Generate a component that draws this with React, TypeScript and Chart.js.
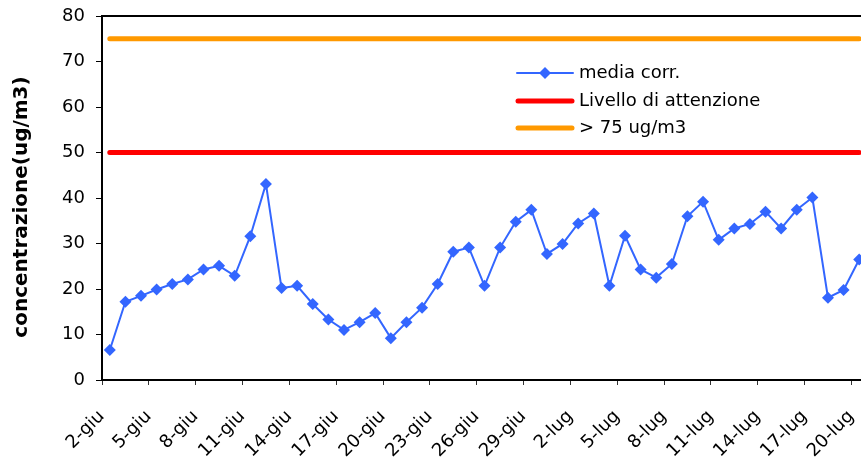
import React, { useEffect, useRef } from "react";
import { Chart, registerables } from "chart.js";

Chart.register(...registerables);

const categories: string[] = [
  "2-giu", "3-giu", "4-giu", "5-giu", "6-giu", "7-giu", "8-giu", "9-giu", "10-giu",
  "11-giu", "12-giu", "13-giu", "14-giu", "15-giu", "16-giu", "17-giu", "18-giu", "19-giu",
  "20-giu", "21-giu", "22-giu", "23-giu", "24-giu", "25-giu", "26-giu", "27-giu", "28-giu",
  "29-giu", "30-giu", "1-lug", "2-lug", "3-lug", "4-lug", "5-lug", "6-lug", "7-lug",
  "8-lug", "9-lug", "10-lug", "11-lug", "12-lug", "13-lug", "14-lug", "15-lug", "16-lug",
  "17-lug", "18-lug", "19-lug", "20-lug",
];

const mediaCorr: number[] = [
  6.6, 17.2, 18.5, 19.9, 21.1, 22.1, 24.3, 25.1, 22.9, 31.6,
  43.1, 20.2, 20.7, 16.7, 13.3, 11.0, 12.7, 14.7, 9.2, 12.7,
  15.9, 21.1, 28.2, 29.1, 20.7, 29.1, 34.8, 37.4, 27.7, 29.9,
  34.4, 36.6, 20.7, 31.7, 24.3, 22.5, 25.5, 36.0, 39.2, 30.8,
  33.3, 34.3, 37.0, 33.3, 37.4, 40.1, 18.1, 19.8, 26.5,
];

const livelloAttenzione = 50;
const sogliaAlta = 75;

const seriesNames: string[] = ["media corr.", "Livello di attenzione", "> 75 ug/m3"];
const yTitle = "concentrazione(ug/m3)";

const BLUE = "#3366ff";
const RED = "#ff0000";
const ORANGE = "#ff9900";
const FONT = "'DejaVu Sans', Verdana, sans-serif";

export default function App() {
  const canvasRef = useRef<HTMLCanvasElement | null>(null);

  useEffect(() => {
    const canvas = canvasRef.current;
    if (!canvas) return;

    const frameAndLegend = {
      id: "frameAndLegend",
      afterDraw(chart: any) {
        const { ctx, chartArea } = chart;
        ctx.save();
        ctx.strokeStyle = "#000";
        ctx.lineWidth = 2;
        ctx.beginPath();
        ctx.moveTo(chartArea.left - 1, chartArea.top);
        ctx.lineTo(chartArea.right, chartArea.top);
        ctx.stroke();

        ctx.save();
        ctx.translate(22, (chartArea.top + chartArea.bottom) / 2 + 9);
        ctx.rotate(-Math.PI / 2);
        ctx.fillStyle = "#000";
        ctx.font = `bold 20px ${FONT}`;
        ctx.textAlign = "center";
        ctx.textBaseline = "middle";
        ctx.fillText(yTitle, 0, 0);
        ctx.restore();

        const lx0 = chartArea.left + 415;
        const lx1 = lx0 + 56;
        const tx = lx1 + 6;
        const rows = [chartArea.top + 57, chartArea.top + 85, chartArea.top + 112];
        ctx.lineCap = "round";
        ctx.strokeStyle = BLUE;
        ctx.lineWidth = 2;
        ctx.beginPath();
        ctx.moveTo(lx0, rows[0]);
        ctx.lineTo(lx1, rows[0]);
        ctx.stroke();
        ctx.fillStyle = BLUE;
        const mx = (lx0 + lx1) / 2;
        ctx.beginPath();
        ctx.moveTo(mx, rows[0] - 6);
        ctx.lineTo(mx + 6, rows[0]);
        ctx.lineTo(mx, rows[0] + 6);
        ctx.lineTo(mx - 6, rows[0]);
        ctx.closePath();
        ctx.fill();
        ctx.strokeStyle = RED;
        ctx.lineWidth = 5;
        ctx.beginPath();
        ctx.moveTo(lx0 + 1, rows[1]);
        ctx.lineTo(lx1 - 1, rows[1]);
        ctx.stroke();
        ctx.strokeStyle = ORANGE;
        ctx.beginPath();
        ctx.moveTo(lx0 + 1, rows[2]);
        ctx.lineTo(lx1 - 1, rows[2]);
        ctx.stroke();

        ctx.fillStyle = "#000";
        ctx.font = `18px ${FONT}`;
        ctx.textAlign = "left";
        ctx.textBaseline = "middle";
        seriesNames.forEach((n, i) => ctx.fillText(n, tx, rows[i]));
        ctx.restore();
      },
    };

    const chart = new Chart(canvas, {
      type: "line",
      data: {
        labels: categories,
        datasets: [
          {
            label: seriesNames[2],
            data: categories.map(() => sogliaAlta),
            borderColor: ORANGE,
            borderWidth: 5,
            borderCapStyle: "round",
            pointRadius: 0,
            tension: 0,
          },
          {
            label: seriesNames[1],
            data: categories.map(() => livelloAttenzione),
            borderColor: RED,
            borderWidth: 5,
            borderCapStyle: "round",
            pointRadius: 0,
            tension: 0,
          },
          {
            label: seriesNames[0],
            data: mediaCorr,
            borderColor: BLUE,
            backgroundColor: BLUE,
            borderWidth: 2,
            pointStyle: "rectRot",
            pointRadius: 6,
            pointBorderWidth: 0,
            pointBackgroundColor: BLUE,
            tension: 0,
          },
        ],
      },
      options: {
        animation: false,
        responsive: false,
        devicePixelRatio: 1,
        layout: { padding: { top: 16, left: 0, right: 0, bottom: 0 } },
        plugins: {
          legend: { display: false },
          tooltip: { enabled: false },
        },
        scales: {
          x: {
            type: "category",
            offset: true,
            afterFit: (scale: any) => {
              scale.height = 84;
              scale.paddingLeft = 0;
              scale.paddingRight = 0;
            },
            grid: {
              offset: true,
              drawOnChartArea: false,
              drawTicks: true,
              tickLength: 5,
              lineWidth: 1,
              color: (c: any) => (c.index % 3 === 0 ? "#333" : "rgba(0,0,0,0)"),
              tickColor: (c: any) => (c.index % 3 === 0 ? "#333" : "rgba(0,0,0,0)"),
            },
            border: { display: true, color: "#000", width: 2 },
            ticks: {
              autoSkip: false,
              maxRotation: 45,
              minRotation: 45,
              padding: 21,
              labelOffset: -8,
              color: "#000",
              font: { family: FONT, size: 18 },
              callback: (_v: any, i: number) => (i % 3 === 0 ? categories[i] : ""),
            },
          },
          y: {
            min: 0,
            max: 80,
            afterFit: (scale: any) => {
              scale.width = 102;
              scale.paddingTop = 0;
              scale.paddingBottom = 0;
            },
            grid: {
              drawOnChartArea: false,
              drawTicks: true,
              tickLength: 6,
              color: "#000",
              tickColor: "#000",
            },
            border: { display: true, color: "#000", width: 2 },
            ticks: {
              stepSize: 10,
              padding: 11,
              color: "#000",
              font: { family: FONT, size: 18 },
            },
          },
        },
      },
      plugins: [frameAndLegend],
    } as any);

    return () => chart.destroy();
  }, []);

  return (
    <div
      style={{
        position: "fixed",
        left: 0,
        top: 0,
        width: 861,
        height: 464,
        overflow: "hidden",
        background: "#fff",
      }}
    >
      <canvas
        ref={canvasRef}
        width={873}
        height={464}
        style={{ width: 873, height: 464, display: "block" }}
      />
    </div>
  );
}
